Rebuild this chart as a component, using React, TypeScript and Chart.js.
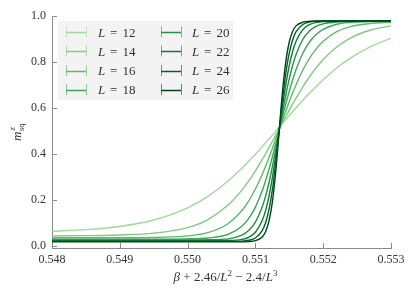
import React, { useEffect, useRef } from 'react';
import { Chart, registerables } from 'chart.js';

Chart.register(...registerables);

// x positions: beta + 2.46/L^2 - 2.4/L^3
const X_VALUES = [
  0.548, 0.5485, 0.549, 0.5495, 0.55, 0.5503, 0.5506, 0.5508, 0.5509, 0.551,
  0.5511, 0.55115, 0.5512, 0.55125, 0.5513, 0.55135, 0.5514, 0.55145, 0.5515, 0.55155,
  0.5516, 0.5517, 0.5518, 0.5519, 0.552, 0.5522, 0.5524, 0.5527, 0.553,
];

const L_SIZES = [12, 14, 16, 18, 20, 22, 24, 26];

const M_L12 = [0.064, 0.071, 0.085, 0.113, 0.166, 0.216, 0.284, 0.338, 0.368, 0.399, 0.432, 0.449, 0.465, 0.482, 0.499, 0.517, 0.534, 0.551, 0.568, 0.584, 0.601, 0.634, 0.665, 0.695, 0.723, 0.774, 0.817, 0.867, 0.903];
const M_L14 = [0.044, 0.045, 0.048, 0.056, 0.080, 0.115, 0.179, 0.243, 0.282, 0.327, 0.376, 0.401, 0.428, 0.455, 0.482, 0.510, 0.537, 0.564, 0.591, 0.618, 0.643, 0.692, 0.737, 0.776, 0.811, 0.865, 0.904, 0.939, 0.957];
const M_L16 = [0.036, 0.036, 0.036, 0.037, 0.044, 0.058, 0.098, 0.154, 0.195, 0.248, 0.311, 0.347, 0.384, 0.424, 0.465, 0.506, 0.547, 0.588, 0.628, 0.666, 0.701, 0.765, 0.817, 0.858, 0.890, 0.932, 0.954, 0.968, 0.973];
const M_L18 = [0.030, 0.030, 0.030, 0.030, 0.031, 0.035, 0.051, 0.086, 0.119, 0.169, 0.240, 0.284, 0.333, 0.387, 0.444, 0.504, 0.563, 0.620, 0.674, 0.723, 0.767, 0.838, 0.888, 0.921, 0.942, 0.964, 0.972, 0.976, 0.977];
const M_L20 = [0.026, 0.026, 0.026, 0.026, 0.026, 0.027, 0.031, 0.047, 0.067, 0.104, 0.170, 0.217, 0.275, 0.344, 0.420, 0.502, 0.583, 0.659, 0.728, 0.786, 0.833, 0.899, 0.936, 0.956, 0.966, 0.974, 0.976, 0.977, 0.977];
const M_L22 = [0.023, 0.023, 0.023, 0.023, 0.023, 0.023, 0.024, 0.029, 0.038, 0.060, 0.111, 0.154, 0.216, 0.296, 0.393, 0.501, 0.608, 0.705, 0.785, 0.847, 0.890, 0.941, 0.963, 0.972, 0.976, 0.978, 0.978, 0.978, 0.978];
const M_L24 = [0.020, 0.020, 0.020, 0.020, 0.020, 0.020, 0.020, 0.021, 0.025, 0.035, 0.067, 0.101, 0.158, 0.244, 0.361, 0.499, 0.637, 0.755, 0.840, 0.897, 0.932, 0.963, 0.974, 0.977, 0.978, 0.978, 0.978, 0.978, 0.978];
const M_L26 = [0.018, 0.018, 0.018, 0.018, 0.018, 0.018, 0.018, 0.018, 0.019, 0.023, 0.039, 0.062, 0.108, 0.191, 0.324, 0.498, 0.672, 0.805, 0.888, 0.934, 0.957, 0.973, 0.977, 0.978, 0.978, 0.978, 0.978, 0.978, 0.978];

const SERIES = [M_L12, M_L14, M_L16, M_L18, M_L20, M_L22, M_L24, M_L26];

const COLORS = ['#a1d99b', '#81ca81', '#5eb96b', '#3da75a', '#278f48', '#0f7a37', '#006127', '#00441b'];

const X_TICKS = [0.548, 0.549, 0.55, 0.551, 0.552, 0.553];
const Y_TICKS = [0, 0.2, 0.4, 0.6, 0.8, 1.0];

const SERIF = '"Liberation Serif", "DejaVu Serif", serif';
const TEXT_COLOR = '#333333';
const SPINE_COLOR = '#8a8a8a';

function hexAlpha(hex: string, a: number) {
  const r = parseInt(hex.slice(1, 3), 16);
  const g = parseInt(hex.slice(3, 5), 16);
  const b = parseInt(hex.slice(5, 7), 16);
  return `rgba(${r},${g},${b},${a})`;
}

const decorPlugin = {
  id: 'decor',
  afterDraw(chart: any) {
    const ctx: CanvasRenderingContext2D = chart.ctx;
    const { left, right, top, bottom } = chart.chartArea;
    const xs = chart.scales.x;
    const ys = chart.scales.y;
    ctx.save();

    // inward ticks
    ctx.strokeStyle = SPINE_COLOR;
    ctx.lineWidth = 1;
    X_TICKS.forEach((v) => {
      const px = Math.round(xs.getPixelForValue(v)) + 0.5;
      ctx.beginPath();
      ctx.moveTo(px, bottom);
      ctx.lineTo(px, bottom - 5);
      ctx.stroke();
    });
    Y_TICKS.forEach((v) => {
      const py = Math.round(ys.getPixelForValue(v)) + 0.5;
      ctx.beginPath();
      ctx.moveTo(left, py);
      ctx.lineTo(left + 5, py);
      ctx.stroke();
    });

    // legend
    const boxX = 58, boxY = 21, boxW = 175, boxH = 79;
    ctx.fillStyle = 'rgba(242,242,242,0.95)';
    ctx.fillRect(boxX, boxY, boxW, boxH);
    const rowY = [32, 51, 70.5, 89.5];
    L_SIZES.forEach((L, i) => {
      const col = Math.floor(i / 4);
      const row = i % 4;
      const sx = 66 + col * 95;
      const y = rowY[row];
      const c = COLORS[i];
      ctx.strokeStyle = c;
      ctx.lineWidth = 1.5;
      ctx.beginPath();
      ctx.moveTo(sx, Math.round(y) + 0.5);
      ctx.lineTo(sx + 20, Math.round(y) + 0.5);
      ctx.stroke();
      ctx.strokeStyle = hexAlpha(c, 0.6);
      ctx.lineWidth = 1;
      [sx + 0.5, sx + 20.5].forEach((cx) => {
        ctx.beginPath();
        ctx.moveTo(cx, y - 5.5);
        ctx.lineTo(cx, y + 5.5);
        ctx.stroke();
      });
      const tx = 98 + col * 94;
      ctx.fillStyle = TEXT_COLOR;
      ctx.textBaseline = 'alphabetic';
      ctx.textAlign = 'left';
      const base = y + 4.5;
      ctx.font = `italic 13px ${SERIF}`;
      ctx.fillText('L', tx, base);
      ctx.font = `13px ${SERIF}`;
      ctx.fillText('=', tx + 12, base);
      ctx.fillText(String(L), tx + 24.5, base);
    });

    // x-axis title: β + 2.46/L² − 2.4/L³
    const segs: { t: string; f: string; dy: number }[] = [
      { t: 'β', f: `italic 13px ${SERIF}`, dy: 0 },
      { t: ' + 2.46/', f: `13px ${SERIF}`, dy: 0 },
      { t: 'L', f: `italic 13px ${SERIF}`, dy: 0 },
      { t: '2', f: `9px ${SERIF}`, dy: -5 },
      { t: ' − 2.4/', f: `13px ${SERIF}`, dy: 0 },
      { t: 'L', f: `italic 13px ${SERIF}`, dy: 0 },
      { t: '3', f: `9px ${SERIF}`, dy: -5 },
    ];
    let total = 0;
    const widths = segs.map((s) => {
      ctx.font = s.f;
      const w = ctx.measureText(s.t).width;
      total += w;
      return w;
    });
    let cx = (left + right) / 2 - total / 2 + 4;
    const baseX = 281;
    ctx.fillStyle = TEXT_COLOR;
    segs.forEach((s, i) => {
      ctx.font = s.f;
      ctx.fillText(s.t, cx, baseX + s.dy);
      cx += widths[i];
    });

    // y-axis title: m^z_sq (rotated)
    ctx.save();
    ctx.font = `italic 13px ${SERIF}`;
    const mW = ctx.measureText('m').width;
    ctx.font = `8.5px ${SERIF}`;
    const sqW = ctx.measureText('sq').width;
    const totalY = mW + sqW + 1;
    ctx.translate(21, (top + bottom) / 2 + totalY / 2);
    ctx.rotate(-Math.PI / 2);
    ctx.fillStyle = TEXT_COLOR;
    ctx.font = `italic 13px ${SERIF}`;
    ctx.fillText('m', 0, 0);
    ctx.font = `italic 8.5px ${SERIF}`;
    ctx.fillText('z', mW + 1, -6);
    ctx.font = `8.5px ${SERIF}`;
    ctx.fillText('sq', mW + 0.5, 3);
    ctx.restore();

    ctx.restore();
  },
};

export default function App() {
  const ref = useRef<HTMLCanvasElement | null>(null);

  useEffect(() => {
    if (!ref.current) return;
    const datasets = L_SIZES.map((L, i) => ({
      label: `L = ${L}`,
      data: X_VALUES.map((x, j) => ({ x, y: SERIES[i][j] })),
      borderColor: COLORS[i],
      backgroundColor: COLORS[i],
      borderWidth: 1.4,
      pointRadius: 0,
      cubicInterpolationMode: 'monotone' as const,
      fill: false,
      order: L_SIZES.length - 1 - i,
    }));

    const chart = new Chart(ref.current, {
      type: 'line',
      data: { datasets },
      options: {
        animation: false,
        responsive: false,
        layout: { padding: { top: 16, right: 24, left: 0, bottom: 0 } },
        plugins: {
          legend: { display: false },
          tooltip: { enabled: false },
        },
        scales: {
          x: {
            type: 'linear',
            min: 0.548,
            max: 0.553,
            afterFit: (s: any) => {
              s.height = 49;
            },
            afterBuildTicks: (s: any) => {
              s.ticks = X_TICKS.map((v) => ({ value: v }));
            },
            grid: { display: false, drawTicks: false },
            border: { display: true, color: SPINE_COLOR, width: 1 },
            ticks: {
              padding: 5,
              color: TEXT_COLOR,
              font: { family: SERIF, size: 12 },
              maxRotation: 0,
              callback: (v: any) => Number(v).toFixed(3),
            },
          },
          y: {
            type: 'linear',
            min: -0.0087,
            max: 1.0,
            afterFit: (s: any) => {
              s.width = 52;
            },
            afterBuildTicks: (s: any) => {
              s.ticks = Y_TICKS.map((v) => ({ value: v }));
            },
            grid: { display: false, drawTicks: false },
            border: { display: true, color: SPINE_COLOR, width: 1 },
            ticks: {
              padding: 6,
              color: TEXT_COLOR,
              font: { family: SERIF, size: 12 },
              callback: (v: any) => Number(v).toFixed(1),
            },
          },
        },
      },
      plugins: [decorPlugin],
    });
    return () => chart.destroy();
  }, []);

  return (
    <div style={{ position: 'fixed', left: 0, top: 0, width: 415, height: 297, background: '#fff' }}>
      <canvas ref={ref} width={415} height={297} />
    </div>
  );
}
